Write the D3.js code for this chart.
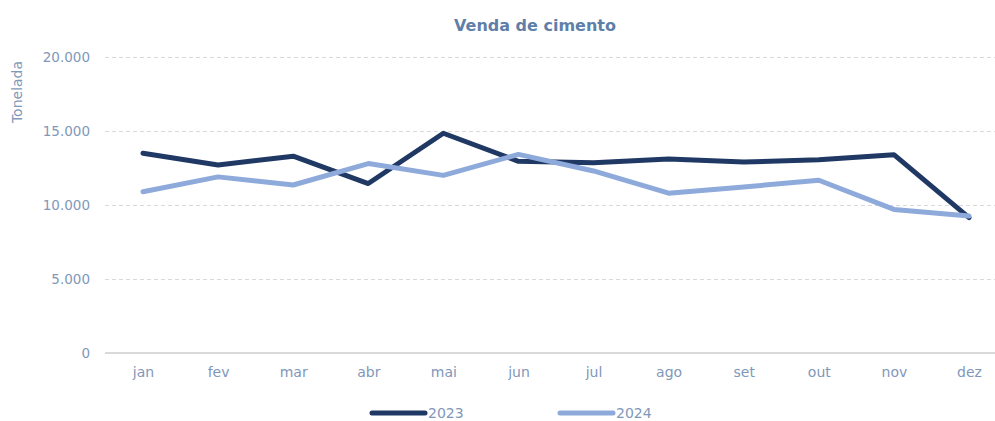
<!DOCTYPE html>
<html>
<head>
<meta charset="utf-8">
<script src="https://cdn.jsdelivr.net/npm/d3@7"></script>
<style>
  body { margin: 0; background: #fff; }
  svg { font-family: "DejaVu Sans", sans-serif; }
</style>
</head>
<body>
<svg id="chart" width="995" height="421"></svg>
<script>
const months = ["jan", "fev", "mar", "abr", "mai", "jun", "jul", "ago", "set", "out", "nov", "dez"];
const sales2023 = [13500, 12700, 13300, 11450, 14850, 12950, 12850, 13100, 12900, 13050, 13400, 9150];
const sales2024 = [10900, 11900, 11350, 12800, 12000, 13420, 12300, 10800, 11220, 11670, 9700, 9260];
const yTicks = [0, 5000, 10000, 15000, 20000];

const textColor = "#7f98b9";
const series = [
    { name: "2023", values: sales2023, color: "#203864" },
    { name: "2024", values: sales2024, color: "#8eaadb" }
];

const svg = d3.select("#chart");

const x = d3.scalePoint()
    .domain(months)
    .range([143, 969]);

const y = d3.scaleLinear()
    .domain([0, 20000])
    .range([353, 57]);

const fmt = d => d3.format(",")(d).replace(/,/g, ".");

// gridlines (half-pixel offset keeps the dashes crisp)
svg.append("g")
    .selectAll("line")
    .data(yTicks)
    .join("line")
      .attr("x1", 105)
      .attr("x2", 995)
      .attr("y1", d => d === 0 ? y(d) : y(d) + 0.5)
      .attr("y2", d => d === 0 ? y(d) : y(d) + 0.5)
      .attr("stroke", "#d9d9d9")
      .attr("stroke-width", d => d === 0 ? 2 : 1)
      .attr("stroke-dasharray", d => d === 0 ? null : "4,3");

// y axis labels
const yAxis = d3.axisLeft(y).tickValues(yTicks).tickFormat(fmt).tickSize(0).tickPadding(0);
svg.append("g")
    .attr("transform", "translate(90,0)")
    .call(yAxis)
    .call(g => g.select(".domain").remove())
    .selectAll("text")
      .attr("fill", textColor)
      .attr("font-size", 13.5)
      .attr("font-family", "'DejaVu Sans', sans-serif");

// x axis labels
const xAxis = d3.axisBottom(x).tickSize(0).tickPadding(0);
svg.append("g")
    .attr("transform", "translate(0,367)")
    .call(xAxis)
    .call(g => g.select(".domain").remove())
    .selectAll("text")
      .attr("fill", textColor)
      .attr("font-size", 14)
      .attr("font-family", "'DejaVu Sans', sans-serif");

// lines
const line = d3.line()
    .x((d, i) => x(months[i]))
    .y(d => y(d));

svg.append("g")
    .selectAll("path")
    .data(series)
    .join("path")
      .attr("fill", "none")
      .attr("stroke", d => d.color)
      .attr("stroke-width", 5)
      .attr("stroke-linejoin", "round")
      .attr("stroke-linecap", "round")
      .attr("d", d => line(d.values));

// title
svg.append("text")
    .attr("x", 535)
    .attr("y", 31)
    .attr("text-anchor", "middle")
    .attr("font-size", 16)
    .attr("font-weight", "bold")
    .attr("fill", "#5f7fa8")
    .text("Venda de cimento");

// y label
svg.append("text")
    .attr("transform", "translate(22,92) rotate(-90)")
    .attr("text-anchor", "middle")
    .attr("font-size", 14)
    .attr("fill", textColor)
    .text("Tonelada");

// legend
const legend = svg.append("g")
    .selectAll("g")
    .data(series)
    .join("g")
      .attr("transform", (d, i) => `translate(${372 + i * 188},413)`);

legend.append("line")
    .attr("x1", 0)
    .attr("x2", 53)
    .attr("stroke", d => d.color)
    .attr("stroke-width", 5)
    .attr("stroke-linecap", "round");

legend.append("text")
    .attr("x", 56)
    .attr("dy", "0.35em")
    .attr("font-size", 14)
    .attr("fill", textColor)
    .text(d => d.name);
</script>
</body>
</html>
